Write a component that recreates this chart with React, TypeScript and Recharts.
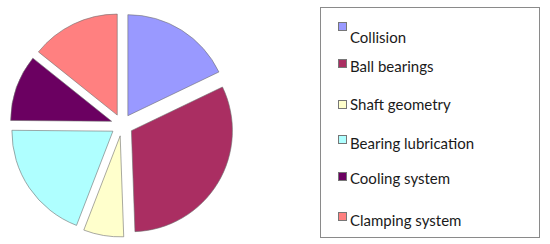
import { PieChart, Pie, Sector, Legend } from "recharts"

const categories = [
  "Collision",
  "Ball bearings",
  "Shaft geometry",
  "Bearing lubrication",
  "Cooling system",
  "Clamping system",
]
// slice sizes (degrees of the circle)
const shares = [64, 113, 23, 69, 38, 51]
const colors = ["#9999FF", "#AA2E62", "#FFFFCC", "#AFFFFF", "#6B0061", "#FF8080"]

const data = categories.map((name, i) => ({ name, value: shares[i] }))

const RAD = Math.PI / 180
const EXPLODE = 11
// legend row layout inside the box (the original spacing is uneven)
const rowTop = [15, 49, 87, 126, 161, 203]
const markerTop = [-1, 2, 5, 1, 3, 1]
const textTop = [5, 0, 0, 0, 0, 0]

const ExplodedSlice = (props: any) => {
  const { cx, cy, midAngle, innerRadius, outerRadius, startAngle, endAngle, index } = props
  const dx = EXPLODE * Math.cos(-midAngle * RAD)
  const dy = EXPLODE * Math.sin(-midAngle * RAD)
  return (
    <Sector
      cx={cx + dx}
      cy={cy + dy}
      innerRadius={innerRadius}
      outerRadius={outerRadius}
      startAngle={startAngle}
      endAngle={endAngle}
      fill={colors[index]}
      stroke="#6f6f6f"
      strokeWidth={0.6}
    />
  )
}

const LegendBox = () => (
  <div
    style={{
      position: "relative",
      width: 218,
      height: 229,
      border: "1px solid #8a8a8a",
      background: "#fff",
      fontFamily: "Lato, 'Open Sans', sans-serif",
      fontSize: 15,
      lineHeight: "18px",
      color: "#1a1a1a",
    }}
  >
    {categories.map((name, i) => (
      <div key={name} style={{ position: "absolute", left: 17, top: rowTop[i], height: 18 }}>
        <span
          style={{
            position: "absolute",
            left: 0,
            top: markerTop[i],
            width: 7,
            height: 7,
            background: colors[i],
            border: "1px solid #777",
          }}
        />
        <span style={{ position: "absolute", left: 12, top: textTop[i], whiteSpace: "nowrap" }}>
          {name}
        </span>
      </div>
    ))}
  </div>
)

export default function App() {
  return (
    <div style={{ position: "absolute", left: 0, top: 0, width: 550, height: 244, background: "#fff" }}>
      <PieChart width={550} height={244}>
        <Pie
          data={data}
          dataKey="value"
          nameKey="name"
          cx={117}
          cy={120}
          outerRadius={101}
          startAngle={90}
          endAngle={-270}
          fill="none"
          stroke="none"
          label={ExplodedSlice}
          labelLine={false}
          isAnimationActive={false}
        />
        <Legend
          layout="vertical"
          content={() => <LegendBox />}
          wrapperStyle={{ position: "absolute", left: 320, top: 7, width: 220 }}
        />
      </PieChart>
    </div>
  )
}
